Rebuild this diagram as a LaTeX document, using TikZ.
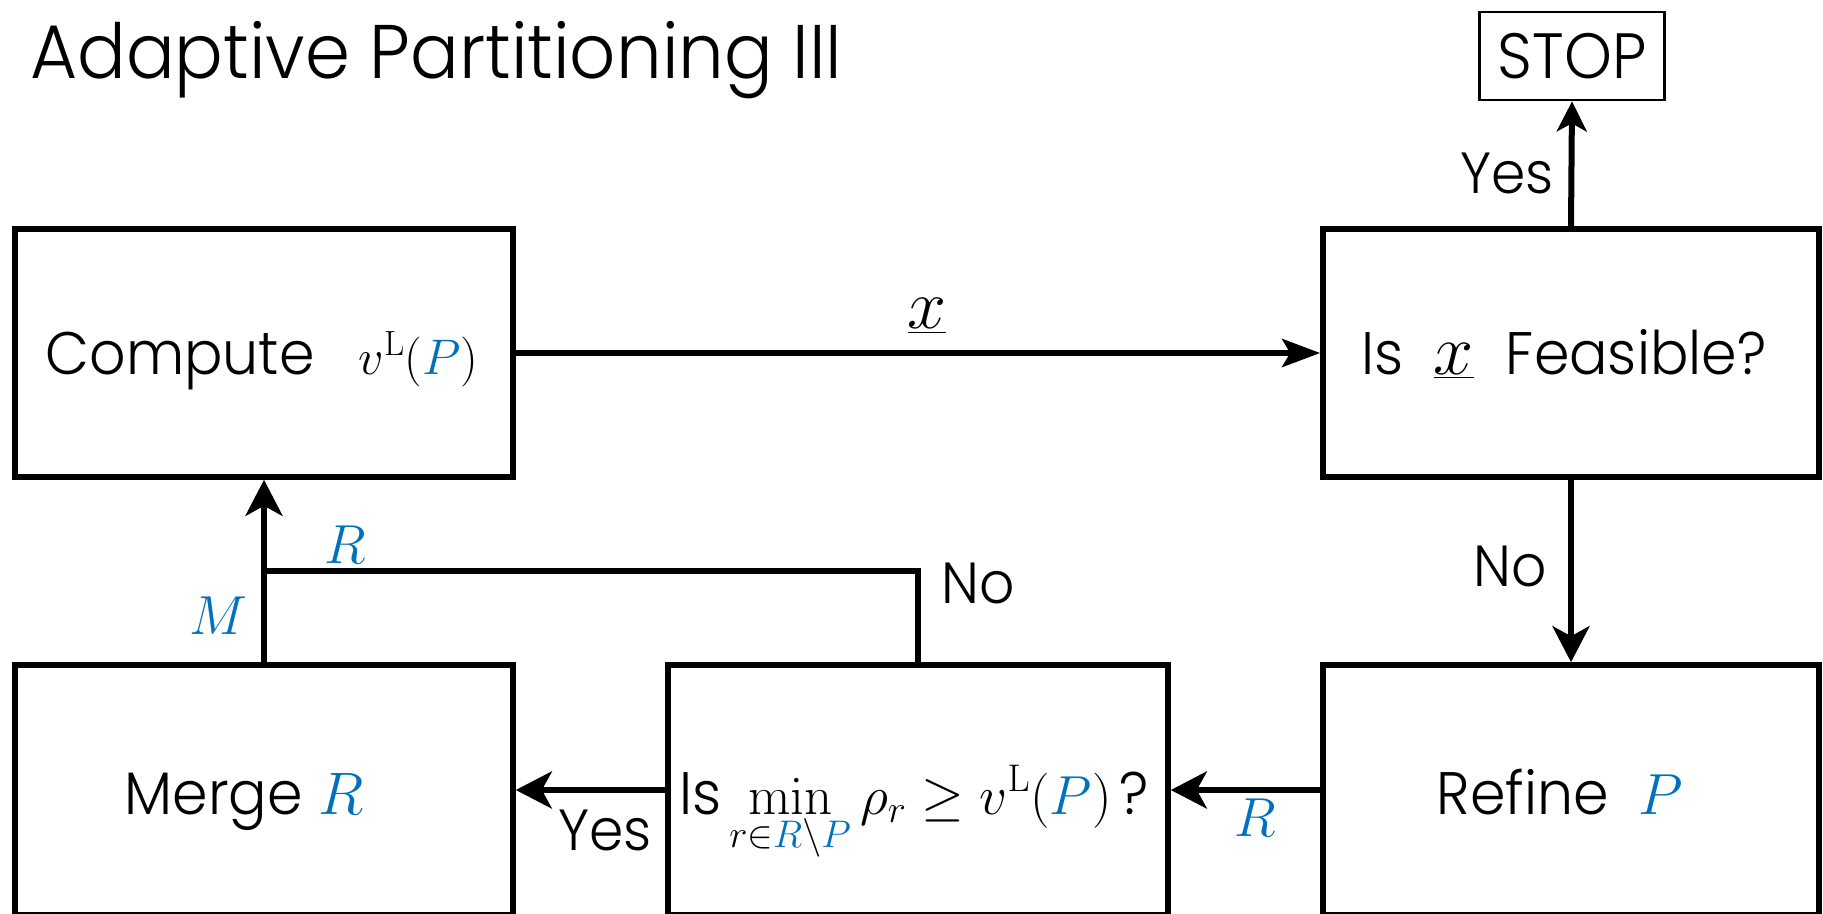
\RequirePackage{fix-cm}
\documentclass[tikz,border=0pt]{standalone}
\usepackage{amsmath}
\usepackage[no-math]{fontspec}
\IfFontExistsTF{Poppins Light}
  {\setmainfont{Poppins Light}[FakeStretch=0.95]}
  {\setmainfont{Poppins}[FakeStretch=0.95]}
\usetikzlibrary{arrows.meta}
\definecolor{pblue}{RGB}{0,114,189}
\newcommand\fsz[1]{\fontsize{#1}{#1}\selectfont}
\newcommand\bl[1]{\textcolor{pblue}{#1}}
\begin{document}
\begin{tikzpicture}[x=1pt,y=-1pt,
  box/.style={draw, line width=5.6pt, minimum width=498pt, minimum height=248pt,
              inner sep=0pt},
  lowbox/.style={box, minimum height=250pt},
  boxtext/.style={anchor=base, inner sep=0pt, font=\fsz{60}},
  stopbox/.style={draw, line width=2.8pt, minimum width=185pt, minimum height=88pt,
              inner sep=0pt, font=\fsz{64}},
  conn/.style={line width=6pt},
  tip/.style={-{Stealth[length=36pt,width=37pt,inset=10pt]}},
  lab/.style={font=\fsz{58}, inner sep=0pt},
  mlab/.style={font=\fsz{55}, text=pblue, inner sep=0pt}]
\useasboundingbox (0,0) rectangle (1823,913);
\clip (0,0) rectangle (1823,913);

% title
\node[anchor=base west, font=\fsz{76}, inner sep=0pt] (title) at (30,78) {Adaptive Partitioning III};

% process boxes
\node[box] (comp) at (264,353) {};
\node[box, minimum width=496pt] (feas) at (1571,353) {};
\node[stopbox] (stop) at (1572,56) {STOP};
\node[lowbox] (merge) at (264,790) {};
\node[lowbox, minimum width=500pt] (test) at (918,790) {};
\node[lowbox, minimum width=496pt] (refine) at (1571,790) {};

% box captions
\node[boxtext] (comp-t) at (262,374)
  {Compute\hspace{44pt}{\fsz{50}$v^{\mathrm{L}}(\bl{P})$}};
\node[boxtext] (feas-t) at (1564,374)
  {Is\hspace{30pt}{\fsz{72}$\underline{x}$}\hspace{32pt}Feasible?};
\node[boxtext] (merge-t) at (244,814)
  {Merge {\fsz{60}$\bl{R}$}};
\node[boxtext] (test-t) at (914,814)
  {Is\hspace{8pt}{\fsz{55}$\displaystyle\min_{r\in\bl{R}\setminus\bl{P}}\rho_r\geq v^{\mathrm{L}}(\bl{P})$}\hspace{8pt}?};
\node[boxtext] (refine-t) at (1560,814)
  {Refine\hspace{30pt}{\fsz{58}$\bl{P}$}};

% connectors
\draw[conn, -{Stealth[length=38pt,width=28pt,inset=8pt]}] (comp.east) -- (feas.west);
\draw[conn, -{Stealth[length=30pt,width=30pt,inset=8pt]}] (feas.north) -- (stop.south);
\draw[conn, tip] (feas.south) -- (refine.north);
\draw[conn, tip] (refine.west) -- (test.east);
\draw[conn, tip] (test.west) -- (merge.east);
\draw[conn, tip] (merge.north) -- (comp.south);
\coordinate (jn) at (merge.north |- 0,571);
\draw[conn] (test.north) |- (jn);

% connector labels
\node[mlab, font=\fsz{70}, text=black] (xl) at (927,316) {$\underline{x}$};
\node[lab] (yesstop) at (1507,173) {Yes};
\node[lab] (nofeas) at (1510,566) {No};
\node[mlab] (rref) at (1255,818) {$R$};
\node[lab] (yesmerge) at (605,830) {Yes};
\node[mlab] (mlab) at (218,616) {$M$};
\node[mlab] (rbr) at (345,545) {$R$};
\node[lab] (nobr) at (978,583) {No};
\end{tikzpicture}
\end{document}
